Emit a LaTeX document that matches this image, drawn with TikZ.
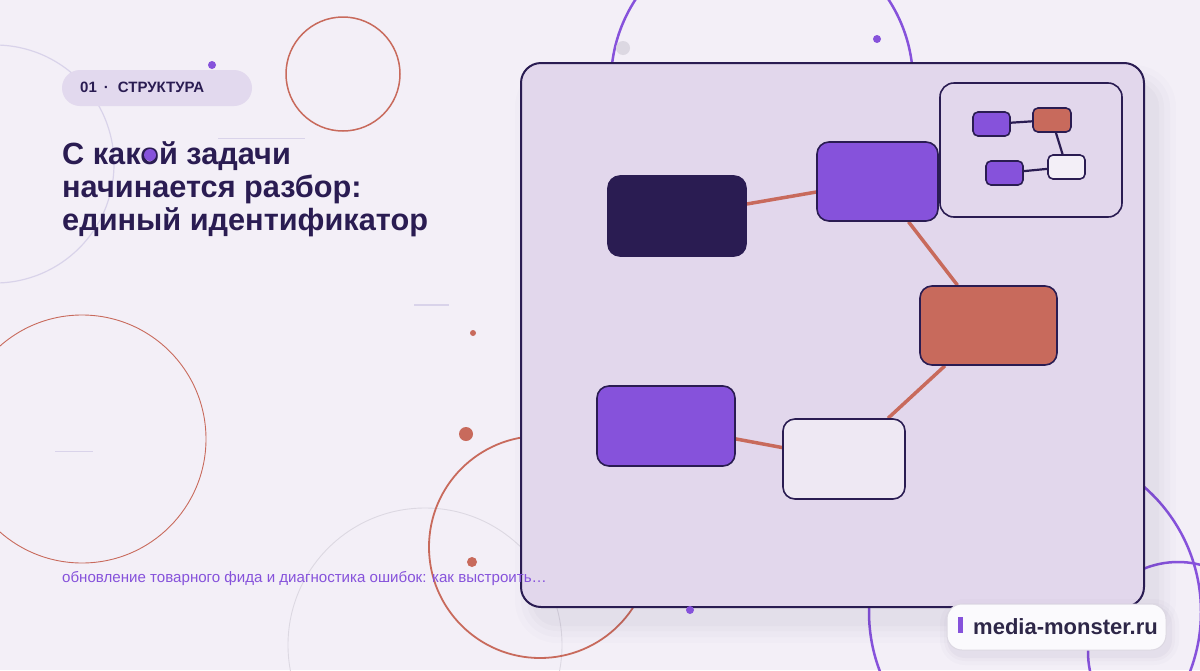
\documentclass[tikz,border=0pt]{standalone}
\usepackage{fontspec}
\setmainfont{Liberation Sans}
\usetikzlibrary{positioning}
\definecolor{bgc}{HTML}{F3EFF7}
\definecolor{ink}{HTML}{2A1C52}
\definecolor{vio}{HTML}{8652DB}
\definecolor{ora}{HTML}{C86A5C}
\definecolor{panelc}{HTML}{E2D7EC}
\definecolor{pale}{HTML}{EEE8F3}
\definecolor{faint}{HTML}{D9D3EA}
\definecolor{greyc}{HTML}{DCD8E2}
\definecolor{tagc}{HTML}{E2D9EE}
\definecolor{brandink}{HTML}{2E2748}
\pgfdeclarelayer{back}
\pgfdeclarelayer{mid}
\pgfsetlayers{back,mid,main}
\tikzset{
  bigbox/.style={draw=ink, line width=1.6pt, rounded corners=12pt, minimum width=138pt, minimum height=80pt, inner sep=0pt},
  minibox/.style={draw=ink, line width=1.6pt, rounded corners=5pt, minimum width=37pt, minimum height=24pt, inner sep=0pt},
  link/.style={draw=ora, line width=3.5pt},
  minilink/.style={draw=ink, line width=2.2pt},
  dot/.style={circle, inner sep=0pt, draw=none},
}
\begin{document}
\begin{tikzpicture}[x=1pt,y=-1pt]
\useasboundingbox (0,0) rectangle (1200,670);
\begin{pgfonlayer}{back}
\clip (0,0) rectangle (1200,670);
\fill[bgc] (0,0) rectangle (1200,670);
% background circles
\draw[faint, line width=1.2pt] (-5,164) circle[radius=119];
\draw[ora, line width=1.5pt] (343,74) circle[radius=57];
\draw[ora, line width=0.9pt] (82,439) circle[radius=124];
\draw[greyc, line width=0.9pt] (425,645) circle[radius=137];
\draw[ora, line width=1.8pt] (540,547) circle[radius=111];
\draw[vio, line width=2.5pt] (762,82) circle[radius=151];
\draw[vio, line width=2.5pt] (1035,612) circle[radius=166];
\draw[vio, line width=2.5pt] (1178,652) circle[radius=90];
% faint strokes
\draw[faint, line width=0.8pt] (218,138) -- (305,138);
\draw[faint, line width=1.2pt] (414,305) -- (449,305);
\draw[faint, line width=0.8pt] (55,451) -- (93,451);
% panel shadow
\foreach \s/\o in {22/0.012,16/0.016,10/0.02,5/0.025}{
  \fill[ink, opacity=\o, rounded corners=20pt+\s pt] (521-\s+16,63-\s+24) rectangle (1144+\s+10,607+\s+14);
}
\end{pgfonlayer}
% dots
\node[dot, fill=vio, minimum size=8pt] (d1) at (212,65) {};
\node[dot, fill=greyc, minimum size=14pt] (d2) at (623,48) {};
\node[dot, fill=vio, minimum size=8pt] (d3) at (877,39) {};
\node[dot, fill=ora, minimum size=6pt] (d4) at (473,333) {};
\node[dot, fill=ora, minimum size=14pt] (d5) at (466,434) {};
\node[dot, fill=ora, minimum size=10pt] (d6) at (472,562) {};
\node[dot, fill=vio, minimum size=8pt] (d7) at (690,610) {};
% tag
\node[fill=tagc, rounded corners=18pt, minimum width=190pt, minimum height=36pt, inner sep=0pt] (tag) at (157,88) {};
\node[anchor=base west, inner sep=0pt, text=ink, font=\fontsize{15}{17}\selectfont\bfseries] (tagtxt) at (80,92.5) {01\hspace{7pt}·\hspace{9pt}СТРУКТУРА};
% title
\node[anchor=base west, inner sep=0pt, text=ink, font=\fontsize{30.7}{34}\selectfont\bfseries] (t1) at (62,164) {С какой задачи};
\node[anchor=base west, inner sep=0pt, text=ink, font=\fontsize{30.7}{34}\selectfont\bfseries] (t2) at (62,197) {начинается разбор:};
\node[anchor=base west, inner sep=0pt, text=ink, font=\fontsize{30.7}{34}\selectfont\bfseries] (t3) at (62,230) {единый идентификатор};
\node[dot, fill=vio, minimum size=12pt] (d8) at (150,155) {};
% subtitle
\node[anchor=base west, inner sep=0pt, text=vio, font=\fontsize{15.1}{18}\selectfont] (sub) at (62,582) {обновление товарного фида и диагностика ошибок: как выстроить…};
% panel
\begin{pgfonlayer}{back}
\node[draw=ink, fill=panelc, line width=2pt, rounded corners=20pt, minimum width=623pt, minimum height=544pt, inner sep=0pt] (panel) at (832.5,335) {};
\end{pgfonlayer}
% main graph
\node[bigbox, fill=ink] (a) at (677,216) {};
\node[bigbox, fill=vio, minimum width=121pt, minimum height=79pt] (b) at (877.5,181.5) {};
\node[bigbox, fill=ora, minimum width=137pt, minimum height=79pt] (c) at (988.5,325.5) {};
\node[bigbox, fill=vio] (d) at (666,426) {};
\node[bigbox, fill=pale, minimum width=122pt] (e) at (844,459) {};
\begin{pgfonlayer}{mid}
\draw[link] (a) -- (b);
\draw[link] (b) -- (c);
\draw[link] (c) -- (e);
\draw[link] (d) -- (e);
\end{pgfonlayer}
% inset
\node[draw=ink, fill=panelc, line width=1.6pt, rounded corners=14pt, minimum width=182pt, minimum height=134pt, inner sep=0pt] (inset) at (1031,150) {};
\node[minibox, fill=vio] (m1) at (991.5,124) {};
\node[minibox, fill=ora, minimum width=38pt] (m2) at (1052,120) {};
\node[minibox, fill=vio] (m3) at (1004.5,173) {};
\node[minibox, fill=bgc] (m4) at (1066.5,167) {};
\draw[minilink] (m1) -- (m2);
\draw[minilink] (m2) -- (m4);
\draw[minilink] (m3) -- (m4);
% brand
\foreach \s/\o in {10/0.015,6/0.02,3/0.03}{
  \fill[ink, opacity=\o, rounded corners=15pt+\s pt] (947-\s+3,604-\s+5) rectangle (1166+\s+3,650+\s+5);
}
\node[draw=greyc, fill=white!70!bgc, line width=1pt, rounded corners=15pt, minimum width=219pt, minimum height=46pt, inner sep=0pt] (brand) at (1056.5,627) {};
\node[fill=vio, inner sep=0pt, minimum width=5pt, minimum height=16pt] (bar) at (960.5,624.5) {};
\node[anchor=base west, inner sep=0pt, text=brandink, font=\fontsize{22}{24}\selectfont\bfseries] (brandtxt) at (973,634) {media-monster.ru};
\end{tikzpicture}
\end{document}
